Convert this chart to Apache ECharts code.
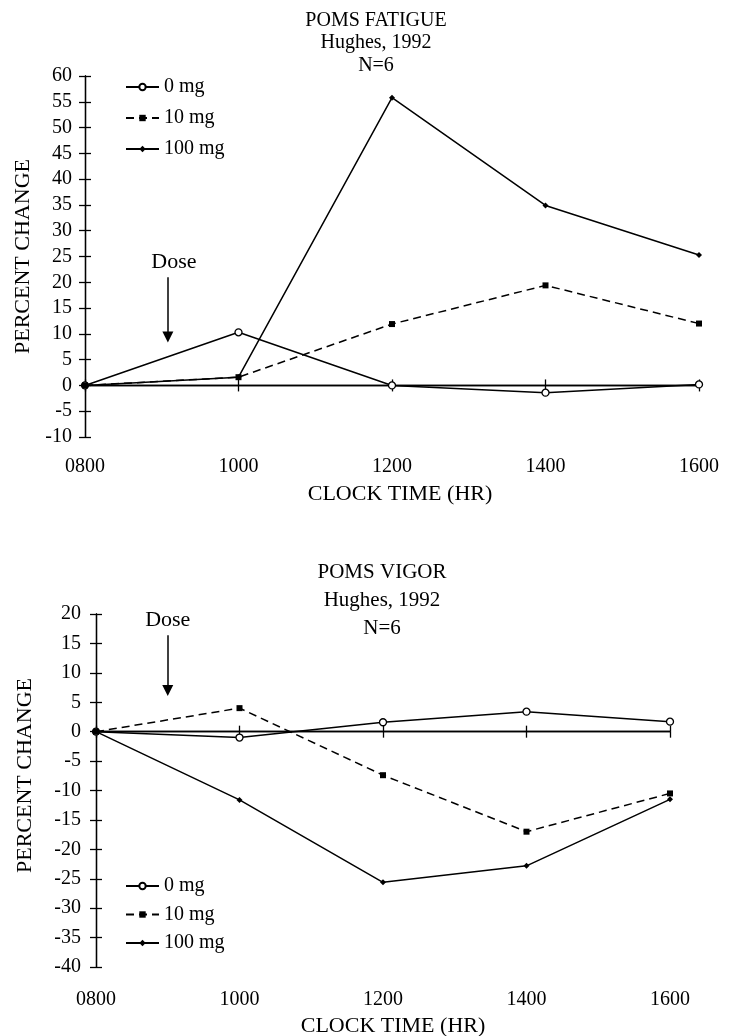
<!DOCTYPE html>
<html>
<head>
<meta charset="utf-8">
<script src="https://cdn.jsdelivr.net/npm/echarts@6/dist/echarts.min.js"></script>
<style>
  html, body { margin: 0; padding: 0; background: #fff; }
  #chart { width: 738px; height: 1036px; }
</style>
</head>
<body>
<div id="chart"></div>
<script>
// Clock times (hours) and their tick labels
const hours = [8, 10, 12, 14, 16];
const timeLabels = ['0800', '1000', '1200', '1400', '1600'];
const doseNames = ['0 mg', '10 mg', '100 mg'];

// POMS Fatigue, percent change
const fatigue0 = [0, 10.3, 0, -1.4, 0.2];
const fatigue10 = [0, 1.6, 11.9, 19.4, 12.0];
const fatigue100 = [0, 1.6, 55.8, 34.9, 25.3];

// POMS Vigor, percent change
const vigor0 = [0, -1.0, 1.6, 3.4, 1.7];
const vigor10 = [0, 4.0, -7.4, -17.0, -10.5];
const vigor100 = [0, -11.6, -25.6, -22.8, -11.5];

// Y axis ranges
const fatigueRange = [-10, 60];
const vigorRange = [-40, 20];
const yStep = 5;

// Dose arrows: [time, start value, end value] on each panel
const fatigueArrow = [9.08, 21.0, 9.4];
const vigorArrow = [9.0, 16.4, 7.0];

const FONT = 'Liberation Serif';
const INK = '#000';

const markStyles = {
  '0 mg': {
    symbol: 'circle', symbolSize: 7,
    itemStyle: { color: '#fff', borderColor: INK, borderWidth: 1.3 },
    lineStyle: { color: INK, width: 1.5, type: 'solid' }
  },
  '10 mg': {
    symbol: 'rect', symbolSize: 6,
    itemStyle: { color: INK },
    lineStyle: { color: INK, width: 1.5, type: [8, 5] }
  },
  '100 mg': {
    symbol: 'diamond', symbolSize: 6,
    itemStyle: { color: INK },
    lineStyle: { color: INK, width: 1.5, type: 'solid' }
  }
};

function pairs(values) {
  return hours.map((h, i) => [h, values[i]]);
}

function lineSeries(name, values, axisIndex, extra) {
  const s = markStyles[name];
  return Object.assign({
    name: name,
    type: 'line',
    xAxisIndex: axisIndex,
    yAxisIndex: axisIndex,
    data: pairs(values),
    symbol: s.symbol,
    symbolSize: s.symbolSize,
    showAllSymbol: true,
    itemStyle: s.itemStyle,
    lineStyle: s.lineStyle,
    emphasis: { disabled: true },
    z: 3
  }, extra || {});
}

function doseArrow(arrow, labelShift) {
  return {
    silent: true,
    symbol: ['none', 'triangle'],
    symbolSize: 11,
    lineStyle: { color: INK, width: 1.5, type: 'solid' },
    label: {
      show: true, position: 'start', formatter: 'Dose', distance: 4,
      fontFamily: FONT, fontSize: 22, color: INK, padding: [0, 0, 0, labelShift]
    },
    emphasis: { disabled: true },
    data: [[{ coord: [arrow[0], arrow[1]] }, { coord: [arrow[0], arrow[2]] }]]
  };
}

const axisLineStyle = { color: INK, width: 1.3 };

// Main x axis: zero line with outward ticks and the clock-time labels
function xMain(grid, labelMargin, nameGap, nameShift) {
  return {
    gridIndex: grid, type: 'value', min: hours[0], max: hours[hours.length - 1], interval: 2,
    axisLine: { show: true, onZero: true, lineStyle: axisLineStyle },
    axisTick: { show: true, length: 6, lineStyle: axisLineStyle },
    axisLabel: {
      margin: labelMargin, fontFamily: FONT, fontSize: 20, color: INK,
      formatter: v => timeLabels[hours.indexOf(v)]
    },
    splitLine: { show: false },
    name: 'CLOCK TIME (HR)', nameLocation: 'middle', nameGap: nameGap,
    nameTextStyle: { fontFamily: FONT, fontSize: 22, color: INK, padding: [0, 0, 0, nameShift] }
  };
}
// Companion x axis: inward ticks so each tick crosses the zero line
function xCross(grid) {
  return {
    gridIndex: grid, type: 'value', min: hours[0], max: hours[hours.length - 1], interval: 2,
    axisLine: { show: true, onZero: true, lineStyle: axisLineStyle },
    axisTick: { show: true, inside: true, length: 6, lineStyle: axisLineStyle },
    axisLabel: { show: false },
    splitLine: { show: false }
  };
}
function yMain(grid, range, nameGap, labelMargin, nameShift) {
  return {
    gridIndex: grid, type: 'value', min: range[0], max: range[1], interval: yStep,
    axisLine: { show: true, onZero: false, lineStyle: axisLineStyle },
    axisTick: { show: true, length: 6, lineStyle: axisLineStyle },
    axisLabel: { margin: labelMargin, fontFamily: FONT, fontSize: 20, color: INK },
    splitLine: { show: false },
    name: 'PERCENT CHANGE', nameLocation: 'middle', nameGap: nameGap,
    nameTextStyle: { fontFamily: FONT, fontSize: 22, color: INK, padding: [0, 0, 0, nameShift] }
  };
}
function yCross(grid, range) {
  return {
    gridIndex: grid, type: 'value', min: range[0], max: range[1], interval: yStep,
    axisLine: { show: true, onZero: false, lineStyle: axisLineStyle },
    axisTick: { show: true, inside: true, length: 6, lineStyle: axisLineStyle },
    axisLabel: { show: false },
    splitLine: { show: false }
  };
}

const topRect = { left: 85, right: 39, top: 76, bottom: 599, outerBoundsMode: 'none' };
const botRect = { left: 96, right: 68, top: 614, bottom: 69, outerBoundsMode: 'none' };

const legendCommon = {
  orient: 'vertical',
  data: doseNames,
  itemWidth: 33,
  itemHeight: 8,
  selectedMode: false,
  textStyle: { fontFamily: FONT, fontSize: 20, color: INK }
};

const option = {
  animation: false,
  backgroundColor: '#fff',
  grid: [
    Object.assign({}, topRect), Object.assign({}, topRect),
    Object.assign({}, botRect), Object.assign({}, botRect)
  ],
  xAxis: [xMain(0, 20, 46, 16), xCross(1), xMain(2, 23, 48, 20), xCross(3)],
  yAxis: [
    yMain(0, fatigueRange, 51, 13, 0), yCross(1, fatigueRange),
    yMain(2, vigorRange, 60, 15, 30), yCross(3, vigorRange)
  ],
  legend: [
    Object.assign({ left: 120, top: 72, itemGap: 11 }, legendCommon),
    Object.assign({ left: 120, top: 871, itemGap: 8.5 }, legendCommon)
  ],
  graphic: [
    {
      type: 'text', x: 376, y: 9, silent: true,
      style: {
        text: 'POMS FATIGUE\nHughes, 1992\nN=6', align: 'center', verticalAlign: 'top',
        fontFamily: FONT, fontSize: 20, lineHeight: 22.5, fill: INK
      }
    },
    {
      type: 'text', x: 382, y: 558, silent: true,
      style: {
        text: 'POMS VIGOR\nHughes, 1992\nN=6', align: 'center', verticalAlign: 'top',
        fontFamily: FONT, fontSize: 21, lineHeight: 28, fill: INK
      }
    }
  ],
  series: [
    lineSeries('0 mg', fatigue0, 0, { markLine: doseArrow(fatigueArrow, 12) }),
    lineSeries('10 mg', fatigue10, 0),
    lineSeries('100 mg', fatigue100, 0),
    lineSeries('0 mg', vigor0, 2, { markLine: doseArrow(vigorArrow, 0) }),
    lineSeries('10 mg', vigor10, 2),
    lineSeries('100 mg', vigor100, 2)
  ]
};

const chart = echarts.init(document.getElementById('chart'), null, { renderer: 'canvas' });
chart.setOption(option);
</script>
</body>
</html>
